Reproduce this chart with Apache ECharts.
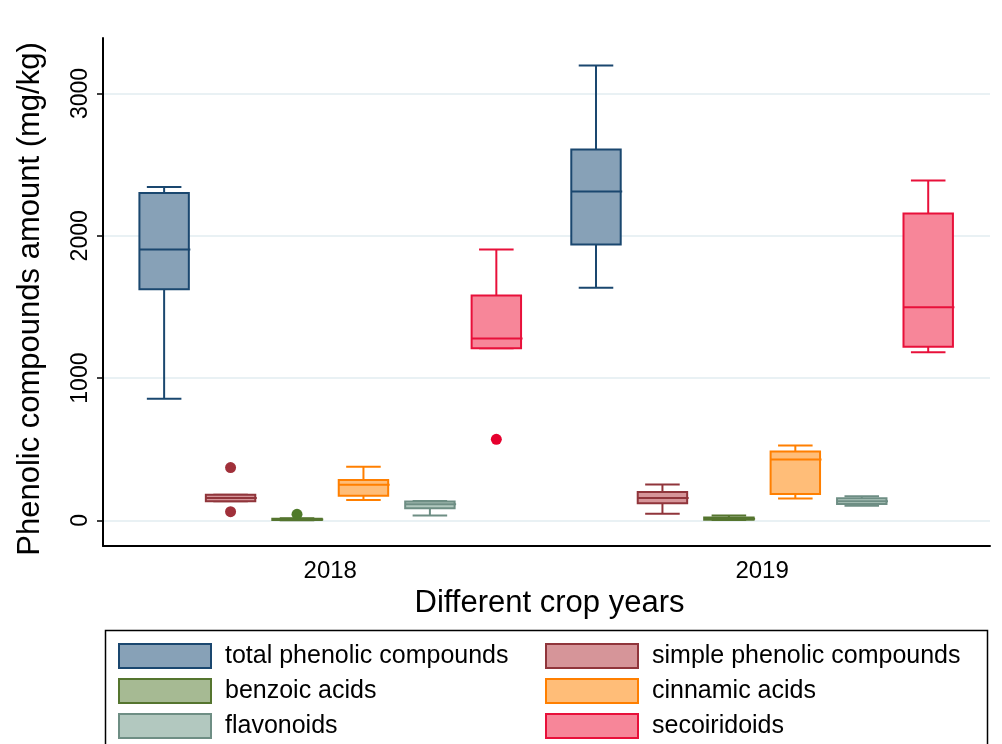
<!DOCTYPE html>
<html>
<head>
<meta charset="utf-8">
<title>Phenolic compounds by crop year</title>
<script src="https://cdn.jsdelivr.net/npm/echarts@6/dist/echarts.min.js"></script>
<style>
  html, body { margin: 0; padding: 0; background: #fff; }
  #chart { width: 1002px; height: 744px; }
</style>
</head>
<body>
<div id="chart"></div>
<script>
const years = ['2018', '2019']
const compounds = [
  'total phenolic compounds',
  'simple phenolic compounds',
  'benzoic acids',
  'cinnamic acids',
  'flavonoids',
  'secoiridoids'
]

// box stats per year: [min, Q1, median, Q3, max]
const totalPhenolic = [[855, 1625, 1903, 2300, 2343], [1634, 1938, 2312, 2607, 3196]]
const simplePhenolic = [[134, 134, 157, 180, 180], [47, 120, 158, 200, 253]]
const benzoicAcids = [[1, 3, 7, 12, 15], [2, 5, 12, 20, 35]]
const cinnamicAcids = [[144, 174, 251, 284, 377], [154, 186, 428, 484, 526]]
const flavonoids = [[34, 86, 114, 132, 137], [102, 115, 135, 156, 170]]
const secoiridoids = [[1209, 1209, 1279, 1580, 1903], [1182, 1220, 1498, 2156, 2389]]
const boxStats = [totalPhenolic, simplePhenolic, benzoicAcids, cinnamicAcids, flavonoids, secoiridoids]

// outside values: [compound index, year index, value]
const outliers = [[1, 0, 371], [1, 0, 61], [2, 0, 43], [5, 0, 570]]

const yTicks = [0, 1000, 2000, 3000]

const strokeColors = ['#1a476f', '#90353b', '#55752f', '#ff7f00', '#6e8e84', '#e8103a']
const dotColors = ['#1a476f', '#a0303a', '#4f7a2a', '#ff7f00', '#6e8e84', '#e6002e']
const fillColors = ['#87a1b7', '#d69599', '#a6ba93', '#ffbd78', '#b2c8bf', '#f78699']
const fontFamily = 'Arial, "Liberation Sans", sans-serif'

const BOX_W = 0.744
const CAP_W = 0.52
const YEAR_STEP = 6.5

function slot(yearIdx, compIdx) {
  return 1 + compIdx + yearIdx * YEAR_STEP
}
const yearCenters = years.map((_, i) => slot(i, 2.5))

function renderBox(params, api) {
  const x = api.value(0)
  const lo = api.coord([x, api.value(1)])
  const q1 = api.coord([x, api.value(2)])
  const md = api.coord([x, api.value(3)])
  const q3 = api.coord([x, api.value(4)])
  const hi = api.coord([x, api.value(5)])
  const half = api.size([BOX_W, 0])[0] / 2
  const cap = api.size([CAP_W, 0])[0] / 2
  const stroke = strokeColors[params.seriesIndex]
  const fill = fillColors[params.seriesIndex]
  const ls = { stroke, lineWidth: 2 }
  const cx = lo[0]
  return {
    type: 'group',
    children: [
      { type: 'line', shape: { x1: cx, y1: hi[1], x2: cx, y2: q3[1] }, style: ls },
      { type: 'line', shape: { x1: cx, y1: q1[1], x2: cx, y2: lo[1] }, style: ls },
      { type: 'line', shape: { x1: cx - cap, y1: hi[1], x2: cx + cap, y2: hi[1] }, style: ls },
      { type: 'line', shape: { x1: cx - cap, y1: lo[1], x2: cx + cap, y2: lo[1] }, style: ls },
      {
        type: 'rect',
        shape: { x: cx - half, y: q3[1], width: half * 2, height: q1[1] - q3[1] },
        style: { fill, stroke, lineWidth: 2 }
      },
      { type: 'line', shape: { x1: cx - half, y1: md[1], x2: cx + half + 1.5, y2: md[1] }, style: ls }
    ]
  }
}

const boxSeries = compounds.map((name, k) => ({
  type: 'custom',
  name,
  renderItem: renderBox,
  itemStyle: { color: fillColors[k], borderColor: strokeColors[k] },
  encode: { x: 0, y: [1, 2, 3, 4, 5] },
  data: boxStats[k].map((s, yi) => [slot(yi, k)].concat(s)),
  z: 3
}))

const outlierSeries = {
  type: 'scatter',
  name: 'outside values',
  symbolSize: 11,
  z: 4,
  data: outliers.map(([k, yi, v]) => ({
    value: [slot(yi, k), v],
    itemStyle: { color: dotColors[k], opacity: 1 }
  }))
}

// legend: two columns, three rows
const legendCols = [118, 545]
const legendRows = [643, 678, 713]
const legends = compounds.map((name, k) => ({
  data: [{
    name,
    icon: 'rect',
    itemStyle: { color: fillColors[k], borderColor: strokeColors[k], borderWidth: 2 }
  }],
  left: legendCols[k % 2],
  top: legendRows[Math.floor(k / 2)],
  padding: 0,
  itemWidth: 92,
  itemHeight: 24,
  selectedMode: false,
  textStyle: { fontSize: 25, color: '#000', fontFamily, padding: [0, 0, 0, 9] }
}))

const chart = echarts.init(document.getElementById('chart'))
chart.setOption({
  animation: false,
  backgroundColor: '#fff',
  grid: { left: 103, right: 12, top: 38, bottom: 198 },
  legend: legends,
  graphic: [{
    type: 'rect',
    left: 103,
    top: 628,
    silent: true,
    shape: { width: 882, height: 140 },
    style: { fill: 'none', stroke: '#000', lineWidth: 1.5 }
  }],
  xAxis: {
    type: 'value',
    min: 0.08,
    max: 13.43,
    name: 'Different crop years',
    nameLocation: 'middle',
    nameGap: 37,
    nameTextStyle: { fontSize: 31, color: '#000', fontFamily, padding: [0, 0, 0, 6] },
    axisLine: { show: true, onZero: false, lineStyle: { color: '#000', width: 2 } },
    axisTick: { show: false },
    splitLine: { show: false },
    axisLabel: {
      customValues: yearCenters,
      margin: 13,
      fontSize: 24,
      color: '#000',
      fontFamily,
      formatter: (v) => years[yearCenters.findIndex((c) => Math.abs(c - v) < 0.01)] || ''
    }
  },
  yAxis: {
    type: 'value',
    min: -180,
    max: 3390,
    name: 'Phenolic compounds amount (mg/kg)',
    nameLocation: 'middle',
    nameRotate: 90,
    nameGap: 57,
    nameTextStyle: { fontSize: 31, color: '#000', fontFamily, padding: [0, 14, 0, 0] },
    axisLine: { show: true, onZero: false, lineStyle: { color: '#000', width: 2 } },
    axisTick: { show: true, customValues: yTicks, length: 6, lineStyle: { color: '#000', width: 1.5 } },
    axisLabel: {
      customValues: yTicks,
      rotate: 90,
      margin: 11,
      fontSize: 23,
      color: '#000',
      fontFamily,
      formatter: (v) => String(v)
    },
    splitLine: { show: true, lineStyle: { color: '#e2edf0', width: 1.5 } }
  },
  series: boxSeries.concat([outlierSeries])
})
</script>
</body>
</html>
